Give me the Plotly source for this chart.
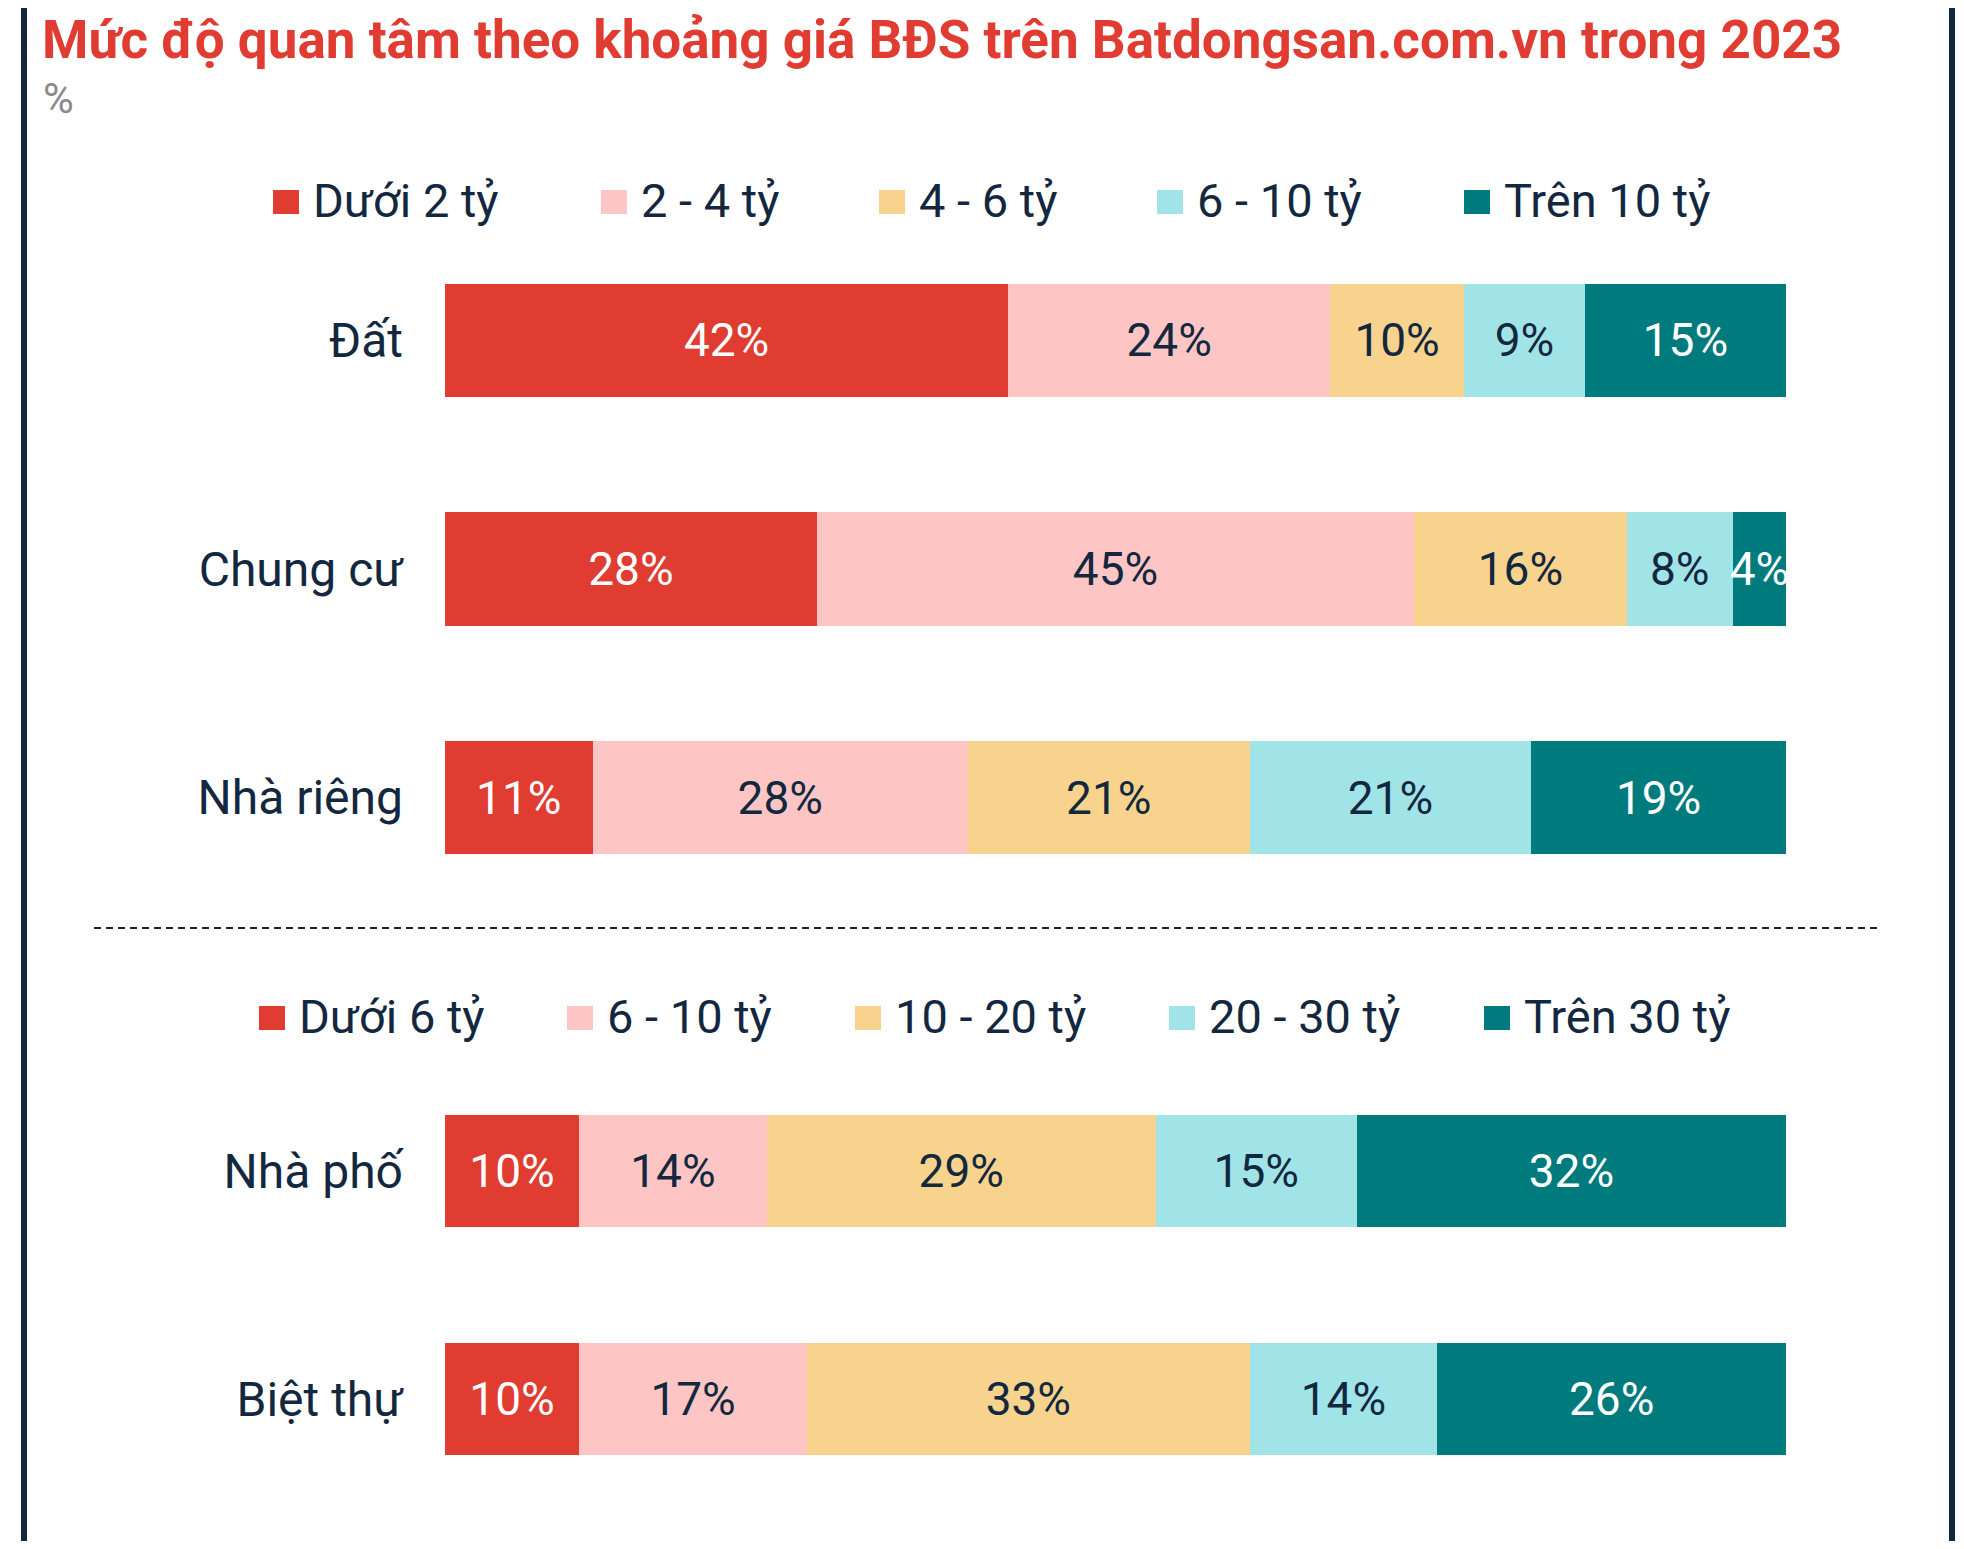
import plotly.graph_objects as go

# ---------------- data ----------------
title_text = "Mức độ quan tâm theo khoảng giá BĐS trên Batdongsan.com.vn trong 2023"
unit_text = "%"

cats_top = ["Đất", "Chung cư", "Nhà riêng"]
legend_top = ["Dưới 2 tỷ", "2 - 4 tỷ", "4 - 6 tỷ", "6 - 10 tỷ", "Trên 10 tỷ"]
top_s1 = [42, 28, 11]
top_s2 = [24, 45, 28]
top_s3 = [10, 16, 21]
top_s4 = [9, 8, 21]
top_s5 = [15, 4, 19]

cats_bot = ["Nhà phố", "Biệt thự"]
legend_bot = ["Dưới 6 tỷ", "6 - 10 tỷ", "10 - 20 tỷ", "20 - 30 tỷ", "Trên 30 tỷ"]
bot_s1 = [10, 10]
bot_s2 = [14, 17]
bot_s3 = [29, 33]
bot_s4 = [15, 14]
bot_s5 = [32, 26]

# ---------------- style ----------------
colors = ["#E03C31", "#FDC6C4", "#F8D38D", "#A0E4E8", "#007B7D"]
label_colors = ["#FFFFFF", "#13283F", "#13283F", "#13283F", "#FFFFFF"]
DARK = "#13283F"
FONT = "Roboto"

W, H, OFF = 1948, 1533, 8


def X(x):
    return (x - OFF) / W


def Y(y):
    return 1 - (y - OFF) / H


fig = go.Figure()

top_series = [top_s1, top_s2, top_s3, top_s4, top_s5]
bot_series = [bot_s1, bot_s2, bot_s3, bot_s4, bot_s5]

for i, vals in enumerate(top_series):
    fig.add_trace(go.Bar(
        y=cats_top, x=vals, orientation="h", name=legend_top[i],
        marker=dict(color=colors[i], line=dict(width=0)),
        text=[f"{v}%" for v in vals], textposition="inside",
        insidetextanchor="middle", textangle=0, constraintext="none",
        textfont=dict(family=FONT, size=46, color=label_colors[i]),
        showlegend=False, hoverinfo="skip", xaxis="x", yaxis="y",
    ))

for i, vals in enumerate(bot_series):
    fig.add_trace(go.Bar(
        y=cats_bot, x=vals, orientation="h", name=legend_bot[i],
        marker=dict(color=colors[i], line=dict(width=0)),
        text=[f"{v}%" for v in vals], textposition="inside",
        insidetextanchor="middle", textangle=0, constraintext="none",
        textfont=dict(family=FONT, size=46, color=label_colors[i]),
        showlegend=False, hoverinfo="skip", xaxis="x2", yaxis="y2",
    ))

xcommon = dict(domain=[X(445), X(1786)], range=[0, 100], showgrid=False,
               zeroline=False, showticklabels=False, showline=False, ticks="")
ycommon = dict(showgrid=False, zeroline=False, showline=False, ticks="",
               autorange="reversed", ticklabelstandoff=41,
               tickfont=dict(family=FONT, size=48, color=DARK))

shapes = []
annotations = []

# borders
shapes.append(dict(type="line", xref="paper", yref="paper", x0=X(24), x1=X(24),
                   y0=0, y1=1, line=dict(color=DARK, width=6)))
shapes.append(dict(type="line", xref="paper", yref="paper", x0=X(1952), x1=X(1952),
                   y0=0, y1=1, line=dict(color=DARK, width=6)))
# dashed separator
shapes.append(dict(type="line", xref="paper", yref="paper", x0=X(94), x1=X(1880),
                   y0=Y(928), y1=Y(928), line=dict(color=DARK, width=2, dash="7px,5px")))

# legends (manual)
leg_top_x = [273, 601, 879, 1157, 1464]
leg_bot_x = [259, 567, 855, 1169, 1484]
for names, xs, yc in [(legend_top, leg_top_x, 202), (legend_bot, leg_bot_x, 1018)]:
    for i, (nm, x0) in enumerate(zip(names, xs)):
        shapes.append(dict(type="rect", xref="paper", yref="paper",
                           x0=X(x0), x1=X(x0 + 26), y0=Y(yc + 12), y1=Y(yc - 12),
                           fillcolor=colors[i], line=dict(width=0)))
        annotations.append(dict(text=nm, xref="paper", yref="paper", x=X(x0 + 38),
                                y=Y(yc - 2), xanchor="left", yanchor="middle",
                                showarrow=False,
                                font=dict(family=FONT, size=47, color=DARK)))

# title and unit
annotations.append(dict(text=f"<b>{title_text}</b>", xref="paper", yref="paper",
                        x=X(40), y=Y(40), xanchor="left", yanchor="middle",
                        showarrow=False, font=dict(family=FONT, size=53, color="#E03C31")))
annotations.append(dict(text=unit_text, xref="paper", yref="paper",
                        x=X(41), y=Y(98), xanchor="left", yanchor="middle",
                        showarrow=False, font=dict(family=FONT, size=42, color="#8A8A8A")))

fig.update_layout(
    width=W, height=H,
    margin=dict(l=0, r=0, t=0, b=0),
    paper_bgcolor="white", plot_bgcolor="white",
    barmode="stack", barnorm="percent", bargap=0.505,
    font=dict(family=FONT, color=DARK),
    xaxis=dict(**xcommon, anchor="y"),
    xaxis2=dict(**xcommon, anchor="y2"),
    yaxis=dict(**ycommon, domain=[Y(912), Y(226)], anchor="x"),
    yaxis2=dict(**ycommon, domain=[Y(1513), Y(1057)], anchor="x2"),
    shapes=shapes, annotations=annotations, showlegend=False,
)

fig.write_html("out.html")
